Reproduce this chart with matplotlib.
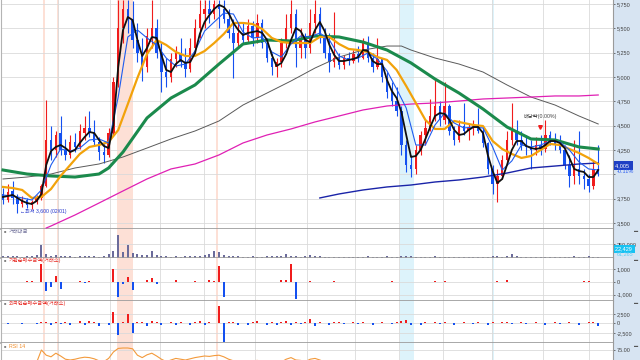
import matplotlib
matplotlib.use("Agg")
import matplotlib.pyplot as plt
from matplotlib.patches import Rectangle

plt.rcParams['font.family'] = ['Liberation Sans', 'Noto Sans CJK KR', 'DejaVu Sans']

# ---- 일봉 (candles) ----
opens = [3800, 3740, 3830, 3760, 3690, 3740, 3680, 3720, 3760, 3880,
         4350, 4250, 4420, 4250, 4200, 4330, 4280, 4420, 4480, 4420,
         4330, 4230, 4200, 4420, 4950, 5500, 5700, 5600, 5380, 5250,
         5100, 5420, 5500, 5250, 5050, 5000, 5180, 5250, 5150, 5080,
         5300, 5500, 5650, 5700, 5650, 5750, 5700, 5600, 5450, 5350,
         5450, 5380, 5520, 5400, 5550, 5350, 5200, 5100, 5150, 5350,
         5500, 5650, 5300, 5400, 5300, 5550, 5650, 5420, 5250, 5150,
         5200, 5120, 5200, 5160, 5240, 5200, 5350, 5200, 5100, 5180,
         5000, 4850, 4750, 4650, 4300, 4100, 4050, 4250, 4400, 4480,
         4600, 4700, 4560, 4700, 4450, 4350, 4500, 4450, 4480, 4500,
         4450, 4320, 4050, 3900, 3980, 4150, 4350, 4450, 4350, 4300,
         4280, 4250, 4300, 4260, 4400, 4350, 4300, 4250, 4100, 3980,
         4050, 3980, 3950, 3880, 4050]
highs = [3860, 3900, 3930, 3800, 3780, 3760, 3740, 3790, 3900, 4760,
         4500, 4450, 4600, 4360, 4400, 4420, 4520, 4600, 4650, 4560,
         4380, 4320, 4480, 5000, 5790, 5790, 5790, 5780, 5550, 5400,
         5500, 5790, 5600, 5350, 5200, 5250, 5320, 5400, 5300, 5400,
         5600, 5790, 5790, 5790, 5790, 5790, 5790, 5700, 5600, 5550,
         5560, 5600, 5580, 5650, 5600, 5400, 5250, 5200, 5400, 5650,
         5790, 5700, 5500, 5450, 5700, 5790, 5720, 5500, 5450, 5670,
         5250, 5230, 5260, 5280, 5320, 5400, 5420, 5250, 5400, 5200,
         5050, 4950, 4900, 4700, 4350, 4200, 4300, 4450, 4560, 4770,
         4990, 4750, 4950, 4720, 4500, 4560, 4730, 4520, 4560, 4680,
         4480, 4330, 4100, 4050, 4200, 4450, 4730, 4560, 4450, 4400,
         4350, 4380, 4400, 4560, 4450, 4420, 4400, 4300, 4200, 4350,
         4450, 4050, 4000, 4150, 4300]
lows = [3700, 3720, 3700, 3600, 3660, 3650, 3640, 3690, 3740, 3870,
        4150, 4180, 4200, 4150, 4170, 4230, 4260, 4350, 4380, 4300,
        4150, 4120, 4180, 4400, 4900, 5350, 5450, 5300, 5150, 4960,
        5050, 5300, 5200, 4850, 4900, 4950, 5100, 5100, 5000, 5050,
        5250, 5400, 5500, 5550, 5600, 5500, 5550, 5400, 4990, 5300,
        5350, 5350, 5320, 5350, 5300, 5150, 5020, 5000, 5100, 5300,
        5450, 5100, 5200, 5200, 5250, 5450, 5350, 5200, 5050, 5100,
        5080, 5080, 5120, 5140, 5150, 5180, 5150, 5050, 5080, 4950,
        4780, 4700, 4600, 4200, 4020, 3970, 4000, 4200, 4300, 4450,
        4550, 4500, 4520, 4400, 4300, 4330, 4400, 4350, 4400, 4420,
        4280, 4000, 3800, 3720, 3950, 4100, 4300, 4300, 4250, 4200,
        4050, 4200, 4200, 4230, 4300, 4250, 4220, 4050, 3870, 3900,
        3900, 3850, 3820, 3850, 3980]
closes = [3740, 3820, 3760, 3690, 3740, 3680, 3720, 3760, 3880, 4350,
          4250, 4400, 4250, 4200, 4330, 4280, 4450, 4480, 4420, 4330,
          4230, 4200, 4420, 4950, 5500, 5700, 5600, 5380, 5250, 5100,
          5420, 5500, 5250, 5050, 5000, 5180, 5250, 5150, 5080, 5300,
          5500, 5650, 5700, 5650, 5750, 5700, 5600, 5450, 5350, 5450,
          5380, 5520, 5400, 5550, 5350, 5200, 5100, 5150, 5350, 5500,
          5650, 5300, 5400, 5300, 5550, 5650, 5420, 5250, 5150, 5200,
          5120, 5200, 5160, 5240, 5200, 5350, 5200, 5100, 5180, 5000,
          4850, 4750, 4650, 4300, 4100, 4050, 4250, 4400, 4480, 4600,
          4700, 4560, 4700, 4450, 4350, 4500, 4450, 4480, 4500, 4450,
          4320, 4050, 3900, 3980, 4150, 4350, 4450, 4350, 4300, 4280,
          4250, 4300, 4260, 4400, 4350, 4300, 4250, 4100, 3980, 4050,
          3980, 3950, 3880, 4050, 4005]

# ---- 이동평균선 (moving averages) ----
ma5 = [3767, 3777, 3788, 3757, 3726, 3705, 3695, 3726, 3798, 4096,
       4239, 4281, 4301, 4270, 4229, 4250, 4322, 4383, 4435, 4424,
       4353, 4291, 4270, 4507, 5103, 5483, 5616, 5585, 5380, 5216,
       5298, 5411, 5401, 5226, 5072, 5051, 5133, 5175, 5144, 5154,
       5246, 5442, 5565, 5637, 5699, 5740, 5719, 5657, 5555, 5483,
       5431, 5452, 5462, 5472, 5452, 5380, 5226, 5113, 5144, 5236,
       5380, 5503, 5472, 5380, 5359, 5483, 5565, 5472, 5329, 5226,
       5164, 5164, 5175, 5185, 5205, 5277, 5267, 5164, 5133, 5133,
       4969, 4856, 4784, 4640, 4404, 4178, 4188, 4250, 4363, 4486,
       4599, 4630, 4620, 4558, 4455, 4404, 4414, 4455, 4486, 4486,
       4424, 4198, 4034, 3911, 3952, 4096, 4250, 4342, 4342, 4291,
       4270, 4260, 4270, 4301, 4342, 4342, 4322, 4270, 4168, 4055,
       4034, 4024, 3972, 3972, 4044]
ma10_x = list(range(0, 125, 2))
ma10 = [3787, 3777, 3757, 3736, 3839, 4096, 4260, 4239, 4270, 4353,
        4363, 4322, 4794, 5411, 5483, 5401, 5329, 5195, 5113, 5133,
        5267, 5472, 5565, 5657, 5647, 5462, 5401, 5411, 5257, 5205,
        5339, 5421, 5411, 5452, 5380, 5216, 5175, 5195, 5246, 5185,
        5062, 4877, 4681, 4301, 4301, 4507, 4630, 4527, 4476, 4486,
        4476, 4281, 4044, 4137, 4301, 4281, 4301, 4342, 4332, 4250,
        4127, 4055, 4044]
ma20_x = list(range(0, 125, 2))
ma20 = [3870, 3859, 3839, 3757, 3767, 3849, 3983, 4096, 4209, 4281,
        4301, 4332, 4455, 4722, 4990, 5236, 5380, 5329, 5257, 5216,
        5216, 5267, 5349, 5442, 5555, 5555, 5544, 5493, 5401, 5359,
        5349, 5349, 5349, 5411, 5411, 5339, 5288, 5277, 5257, 5205,
        5175, 5072, 4907, 4733, 4558, 4466, 4466, 4548, 4527, 4507,
        4496, 4342, 4260, 4209, 4168, 4188, 4250, 4312, 4301, 4260,
        4219, 4168, 4106]
ma60_x = [0, 5, 10, 15, 20, 22, 25, 30, 35, 40, 45, 50, 55, 60, 65, 70,
          75, 80, 85, 90, 95, 100, 105, 110, 115, 120, 124]
ma60 = [4044, 4003, 3983, 3972, 4003, 4065, 4229, 4579, 4784, 4918, 5133,
        5339, 5380, 5370, 5421, 5411, 5359, 5277, 5144, 4979, 4835, 4671,
        4486, 4363, 4353, 4281, 4260]
ma120_x = [0, 5, 10, 15, 20, 25, 30, 35, 40, 45, 50, 55, 60, 65, 70, 75,
           80, 83, 85, 90, 95, 100, 105, 110, 115, 120, 124]
ma120 = [3952, 3972, 4003, 4065, 4106, 4178, 4270, 4363, 4445, 4548, 4712,
         4835, 4959, 5092, 5205, 5277, 5318, 5318, 5277, 5195, 5133, 5051,
         4918, 4794, 4712, 4599, 4517]
ma240_x = [9, 10, 15, 20, 25, 30, 35, 40, 45, 50, 55, 60, 65, 70, 75, 80,
           85, 90, 95, 100, 105, 110, 115, 120, 124]
ma240 = [3448, 3469, 3582, 3705, 3829, 3952, 4055, 4106, 4199, 4322, 4404,
         4466, 4538, 4599, 4661, 4702, 4722, 4733, 4753, 4774, 4784, 4794,
         4805, 4805, 4815]
ma480_x = [66, 70, 75, 80, 85, 90, 95, 100, 105, 110, 115, 120, 124]
ma480 = [3757, 3798, 3839, 3870, 3890, 3921, 3942, 3972, 4013, 4065, 4085,
         4106, 4116]

# ---- 보조지표 ----
volume = [30, 25, 40, 35, 20, 25, 30, 45, 230, 60,
          35, 55, 30, 25, 30, 20, 35, 40, 30, 25,
          20, 25, 60, 120, 420, 110, 230, 80, 60, 45,
          50, 115, 45, 30, 25, 20, 25, 20, 30, 25,
          35, 40, 50, 60, 115, 110, 50, 40, 35, 25,
          20, 20, 25, 20, 20, 25, 30, 25, 35, 60,
          30, 25, 20, 25, 55, 30, 25, 20, 20, 18,
          20, 18, 20, 22, 20, 18, 25, 20, 18, 22,
          25, 20, 22, 30, 35, 25, 20, 18, 20, 22,
          30, 22, 20, 18, 20, 22, 20, 18, 20, 18,
          22, 20, 25, 30, 22, 25, 75, 30, 22, 20,
          18, 20, 18, 22, 20, 18, 20, 22, 20, 25,
          20, 22, 35, 22, 20]
inst_x = [5, 6, 8, 9, 10, 11, 12, 16, 17, 18, 23, 24, 25, 26, 27, 30, 31, 32,
          36, 37, 40, 43, 44, 45, 46, 52, 58, 59, 60, 61, 64, 65, 69, 81, 82,
          90, 91, 92, 103, 105, 106, 107, 121, 122, 123]
inst = [80, 60, 1377, -724, -400, 444, -568, 80, -100, 60, 988, -1190, -200,
        366, -646, 100, 250, -150, 150, -50, 40, 100, 50, 1222, -1190, -20,
        150, 100, 1377, -1346, 80, -40, 50, 60, -30, 40, -40, 80, 40, 100,
        -40, -50, 60, 60, -40]
foreign = [200, -150, 100, 150, -100, 250, 150, -200, 300, 500,
           -300, 400, -200, 300, -400, 200, 600, -500, 700, 300,
           -600, 200, -300, 2970, -2900, 300, 2500, -2450, 400, 500,
           -600, 700, 400, -300, 200, 500, -400, 300, 200, -500,
           300, 600, -300, 400, 200, 4570, -4770, 500, 400, -300,
           200, -400, 300, 600, 200, -500, 300, -300, 400, 600,
           -400, 300, -200, 400, 1200, -600, 300, 200, -300, 400,
           300, -200, 200, 300, -200, 300, 200, -300, 200, 300,
           200, -200, 300, 600, 900, -400, 200, -300, 300, 200,
           300, -200, 400, 200, -300, 200, 300, 200, -200, 300,
           200, -300, 300, 200, 400, 300, -200, 200, 300, -200,
           200, 300, 200, -300, 200, 300, -200, 200, 300, 200,
           -300, 200, 400, 300, -700]
rsi = [40, 38, 42, 35, 36, 34, 38, 44, 75, 62,
       58, 67, 60, 52, 50, 52, 55, 57, 56, 53,
       48, 46, 54, 70, 79, 80, 80, 78, 62, 56,
       63, 67, 60, 52, 46, 50, 54, 52, 50, 53,
       56, 58, 60, 59, 61, 62, 58, 52, 48, 47,
       45, 47, 48, 49, 46, 42, 38, 40, 45, 52,
       56, 50, 49, 46, 52, 54, 50, 45, 42, 40,
       40, 41, 42, 43, 44, 47, 45, 41, 40, 39,
       34, 31, 29, 25, 20, 18, 22, 30, 38, 44,
       48, 46, 48, 43, 40, 42, 44, 45, 46, 44,
       40, 32, 28, 30, 36, 42, 46, 44, 43, 42,
       42, 44, 43, 47, 45, 44, 42, 38, 33, 37,
       35, 34, 32, 38, 37]

price_ticks = [3500, 3750, 4000, 4250, 4500, 4750, 5000, 5250, 5500, 5750]
month_starts = [11.5, 22.3, 32.7, 41.9, 52.5, 63.3, 73.3, 82.5, 91.7, 101.9, 112.5, 122.1]
pink_spans = [(8.25, 8.8), (11.25, 11.7), (23.8, 27.1), (44.4, 44.85)]
cyan_spans = [(82.7, 85.6), (101.9, 102.3)]

RED = '#f01c1c'
BLUE = '#1450f0'
n = len(closes)
xs = list(range(n))

W, H = 640, 360
fig = plt.figure(figsize=(W / 100, H / 100), dpi=100)
fig.add_artist(Rectangle((613 / W, 0), 27 / W, 1, transform=fig.transFigure,
                         facecolor='#d7e4f2', edgecolor='none', zorder=-5))


def panel(top, bottom, **kw):
    return fig.add_axes([1 / W, 1 - bottom / H, 612 / W, (bottom - top) / H], **kw)


ax = panel(0, 229)
ax_vol = panel(229, 258, sharex=ax)
ax_inst = panel(258, 301, sharex=ax)
ax_frg = panel(301, 343, sharex=ax)
ax_rsi = panel(343, 360, sharex=ax)
axes = [ax, ax_vol, ax_inst, ax_frg, ax_rsi]

for a in axes:
    a.set_facecolor('white')
    for lo, hi in pink_spans:
        a.axvspan(lo, hi, color='#fde0d6', lw=0, zorder=0)
    for lo, hi in cyan_spans:
        a.axvspan(lo, hi, color='#ddf3fb', lw=0, zorder=0)
    a.set_xticks(month_starts)
    a.grid(True, color='#dadada', lw=0.6, zorder=1)
    a.set_axisbelow(True)
    a.tick_params(axis='x', length=0, labelbottom=False)
    a.yaxis.tick_right()
    a.tick_params(axis='y', direction='out', length=1.5, width=0.5, pad=1,
                  labelsize=4.0, colors='#404040')
    a.spines['top'].set_visible(False)
    a.spines['bottom'].set_color('#9a9a9a')
    a.spines['bottom'].set_linewidth(1.2)
    a.spines['left'].set_color('#b4b4b4')
    a.spines['right'].set_color('#9a9a9a')
    a.spines['right'].set_linewidth(0.8)

# candles
cols = [RED if c >= o else BLUE for o, c in zip(opens, closes)]
ax.vlines(xs, lows, highs, colors=cols, lw=0.8, zorder=2)
ax.bar(xs, [max(abs(c - o), 8) for o, c in zip(opens, closes)],
       bottom=[min(o, c) for o, c in zip(opens, closes)],
       width=0.48, color=cols, lw=0, zorder=2)

# moving averages
ax.plot(ma120_x, ma120, color='#5a5a5a', lw=0.7, zorder=3)
ax.plot(ma240_x, ma240, color='#e020b4', lw=0.9, zorder=3)
ax.plot(ma480_x, ma480, color='#1a24a8', lw=1.0, zorder=3)
ax.plot(ma60_x, ma60, color='#1b8a4c', lw=2.2, zorder=4)
ax.plot(ma20_x, ma20, color='#f2a20a', lw=1.6, zorder=5)
ax.plot(ma10_x, ma10, color='#1e5cf0', lw=0.8, zorder=6)
ax.plot(xs, ma5, color='#101010', lw=1.3, zorder=7)

ax.set_xlim(-0.42, 127.08)
ax.set_ylim(3438, 5791)
ax.set_yticks(price_ticks)
ax.set_yticklabels(['' if p == 4000 else f'{p:,}' for p in price_ticks])

ax.text(3.5, 3618, '←최저 3,600 (02/01)', fontsize=3.7, color='#2233cc',
        ha='left', va='center', zorder=8)
ax.text(111.9, 4590, '배당락(0.00%)', fontsize=3.8, color='#444444',
        ha='center', va='center', zorder=8)
ax.plot([111.9], [4485], marker='v', ms=2.6, color=RED, zorder=8)

ytr = ax.get_yaxis_transform()
ax.text(1.004, 4092, '4,005 ', transform=ytr, fontsize=4.0, color='white',
        ha='left', va='center', clip_on=False,
        bbox=dict(boxstyle='square,pad=0.3', fc='#1f40c4', ec='none'))
ax.text(1.006, 4030, '-0.11%', transform=ytr, fontsize=4.0, color='#2a5cf0',
        ha='left', va='center', clip_on=False)

# 거래대금
ax_vol.bar(xs, volume, width=0.45, color='#6b6b9b', lw=0, zorder=2)
ax_vol.set_ylim(-4, 524)
ax_vol.set_yticks([250])
ax_vol.set_yticklabels(['250,000'])
vtr = ax_vol.get_yaxis_transform()
ax_vol.text(1.004, 159, '22,429 ', transform=vtr, fontsize=4.0, color='white',
            ha='left', va='center', clip_on=False,
            bbox=dict(boxstyle='square,pad=0.2', fc='#18c2f2', ec='none'))
ax_vol.text(1.006, 68, '61,265', transform=vtr, fontsize=4.0, color='#5ccdf2',
            ha='left', va='center', clip_on=False)

# 기관 / 외국인 순매수
ax_inst.bar(inst_x, inst, width=0.4, lw=0, zorder=2,
            color=[RED if v > 0 else BLUE for v in inst])
ax_inst.set_ylim(-1502, 1844)
ax_inst.set_yticks([-1000, 0, 1000])
ax_inst.set_yticklabels(['-1,000', '0', '1,000'])

ax_frg.bar(xs, foreign, width=0.4, lw=0, zorder=2,
           color=[RED if v > 0 else BLUE for v in foreign])
ax_frg.set_ylim(-5030, 5800)
ax_frg.set_yticks([-2500, 0, 2500])
ax_frg.set_yticklabels(['-2,500', '0', '2,500'])

# RSI
ax_rsi.plot(xs, rsi, color='#f39a3c', lw=0.8, zorder=3)
ax_rsi.set_ylim(50, 92.5)
ax_rsi.set_yticks([75])
ax_rsi.set_yticklabels(['75.00'])
ax_rsi.spines['bottom'].set_visible(False)

titles = [(ax_vol, '거래대금', '#6f6f99'),
          (ax_inst, '기관순매수금액(거래소)', '#e8322c'),
          (ax_frg, '외국인순매수금액(거래소)', '#e8322c'),
          (ax_rsi, 'RSI 14', '#f08c28')]
for a, name, c in titles:
    a.text(0.004, 0.99 if a is not ax_rsi else 0.93, '■', transform=a.transAxes,
           fontsize=2.8, color='#808080', ha='left', va='top', zorder=9)
    a.text(0.013, 1.0 if a is not ax_rsi else 0.95, name, transform=a.transAxes,
           fontsize=3.8, color=c, ha='left', va='top', zorder=9)
    a.text(1.035, 0.99 if a is not ax_rsi else 0.93, '▬', transform=a.transAxes,
           fontsize=3.0, color='#555555', ha='left', va='top', clip_on=False)

fig.savefig('out.png', dpi=100)
